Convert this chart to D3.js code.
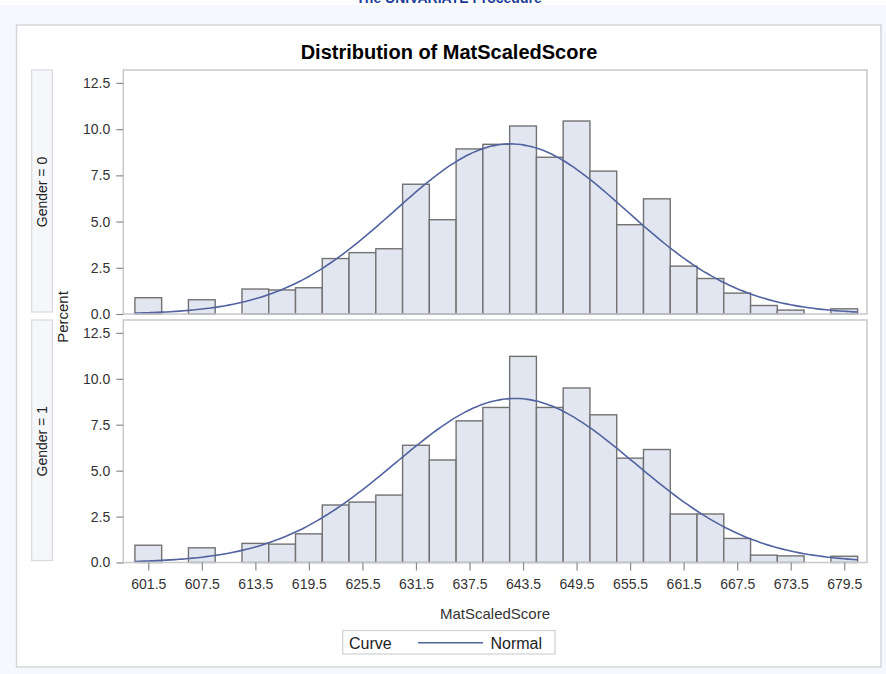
<!DOCTYPE html>
<html>
<head>
<meta charset="utf-8">
<script src="https://cdn.jsdelivr.net/npm/d3@7"></script>
<style>
  html, body { margin: 0; padding: 0; background: #ffffff; }
  svg { display: block; }
  text { font-family: "Liberation Sans", Arial, sans-serif; }
</style>
</head>
<body>
<svg id="chart" width="886" height="674"></svg>
<script>
// Histogram bins of MatScaledScore (bin midpoints, width 3)
const binMids = [601.5, 604.5, 607.5, 610.5, 613.5, 616.5, 619.5, 622.5, 625.5, 628.5,
                 631.5, 634.5, 637.5, 640.5, 643.5, 646.5, 649.5, 652.5, 655.5, 658.5,
                 661.5, 664.5, 667.5, 670.5, 673.5, 676.5, 679.5];
const binWidth = 3;

// Percent of observations in each bin, Gender = 0
const pctGender0 = [0.88, 0, 0.77, 0, 1.35, 1.30, 1.42, 3.00, 3.32, 3.53,
                    7.02, 5.10, 8.93, 9.18, 10.17, 8.48, 10.44, 7.73, 4.83, 6.23,
                    2.59, 1.92, 1.13, 0.46, 0.21, 0, 0.28];
// Percent of observations in each bin, Gender = 1
const pctGender1 = [0.94, 0, 0.80, 0, 1.04, 1.00, 1.56, 3.13, 3.29, 3.67,
                    6.38, 5.58, 7.71, 8.44, 11.22, 8.44, 9.50, 8.04, 5.68, 6.15,
                    2.64, 2.64, 1.31, 0.40, 0.36, 0, 0.34];

// Fitted normal parameters per panel
const panelLabels = ["Gender = 0", "Gender = 1"];
const normalMu = [642.1, 642.6];
const normalSigma = [13.0, 13.4];

// Axis ticks
const xTicks = [601.5, 607.5, 613.5, 619.5, 625.5, 631.5, 637.5, 643.5, 649.5, 655.5,
                661.5, 667.5, 673.5, 679.5];
const yTicks = [0, 2.5, 5, 7.5, 10, 12.5];

const svg = d3.select("#chart");

// page backdrop and output box
svg.append("rect").attr("x", 0).attr("y", 5).attr("width", 886).attr("height", 669)
  .attr("fill", "#f7f8fd");
svg.append("text").attr("x", 449).attr("y", 3).attr("text-anchor", "middle")
  .attr("font-size", 14).attr("font-weight", "bold").attr("fill", "#1b3d99")
  .text("The UNIVARIATE Procedure");
svg.append("rect").attr("x", 16.5).attr("y", 25).attr("width", 864.5).attr("height", 642)
  .attr("fill", "#ffffff").attr("stroke", "#d4d6da").attr("stroke-width", 1.5);

// title
svg.append("text").attr("x", 449).attr("y", 59).attr("text-anchor", "middle")
  .attr("font-size", 20).attr("font-weight", "bold").attr("fill", "#000")
  .text("Distribution of MatScaledScore");

const plotLeft = 123.3, plotRight = 867;
const x = d3.scaleLinear().domain([598.7, 682.05]).range([plotLeft, plotRight]);

const panels = [
  { top: 70, bottom: 314, pct: pctGender0 },
  { top: 320, bottom: 562.5, pct: pctGender1 }
];

const line = d3.line().curve(d3.curveBasis);

panels.forEach((p, i) => {
  const y = d3.scaleLinear().domain([0, 13.2]).range([p.bottom, p.top]);
  const g = svg.append("g");

  // strip with the panel's class value
  g.append("rect").attr("x", 31.7).attr("y", p.top).attr("width", 20.6)
    .attr("height", p.bottom - p.top - 2)
    .attr("fill", "#f5f7fb").attr("stroke", "#d6d9de").attr("stroke-width", 1.2);
  g.append("text")
    .attr("transform", `translate(46.8,${(p.top + p.bottom) / 2}) rotate(-90)`)
    .attr("text-anchor", "middle").attr("font-size", 14).attr("fill", "#222")
    .text(panelLabels[i]);

  // bars
  const bins = binMids.map((m, k) => ({ mid: m, v: p.pct[k] })).filter(d => d.v > 0);
  g.selectAll("rect.bar").data(bins).join("rect").attr("class", "bar")
    .attr("x", d => x(d.mid - binWidth / 2))
    .attr("width", d => x(d.mid + binWidth / 2) - x(d.mid - binWidth / 2))
    .attr("y", d => y(d.v))
    .attr("height", d => y(0) - y(d.v))
    .attr("fill", "#e1e6f0").attr("stroke", "#727272").attr("stroke-width", 1.4);

  // normal density scaled to percent per bin
  const mu = normalMu[i], sd = normalSigma[i];
  const lo = binMids[0] - binWidth / 2, hi = binMids[binMids.length - 1] + binWidth / 2;
  const pts = d3.range(lo, hi + 0.001, 0.5).map(v => {
    const z = (v - mu) / sd;
    const pct = 100 * binWidth * Math.exp(-0.5 * z * z) / (sd * Math.sqrt(2 * Math.PI));
    return [x(v), y(pct)];
  });
  g.append("path").attr("d", line(pts)).attr("fill", "none")
    .attr("stroke", "#5263a0").attr("stroke-width", 1.6);

  // frame
  g.append("rect").attr("x", plotLeft).attr("y", p.top)
    .attr("width", plotRight - plotLeft).attr("height", p.bottom - p.top)
    .attr("fill", "none").attr("stroke", "#c6c8cc").attr("stroke-width", 1.5);

  // y axis
  const ya = g.append("g").attr("transform", `translate(${plotLeft},0)`)
    .call(d3.axisLeft(y).tickValues(yTicks).tickFormat(d3.format(".1f"))
      .tickSize(7).tickPadding(6));
  ya.select(".domain").remove();
  ya.selectAll(".tick line").attr("stroke", "#8a8a8a").attr("stroke-width", 1.2);
  ya.selectAll(".tick text").attr("font-size", 14).attr("fill", "#333")
    .attr("font-family", "Liberation Sans, Arial, sans-serif");

  if (i === 1) {
    const xa = g.append("g").attr("transform", `translate(0,${p.bottom})`)
      .call(d3.axisBottom(x).tickValues(xTicks).tickFormat(d3.format(".1f"))
        .tickSize(8).tickPadding(9));
    xa.select(".domain").remove();
    xa.selectAll(".tick line").attr("stroke", "#8a8a8a").attr("stroke-width", 1.2);
    xa.selectAll(".tick text").attr("font-size", 14).attr("fill", "#333")
      .attr("font-family", "Liberation Sans, Arial, sans-serif");
  }
});

// y axis title shared by both panels
svg.append("text")
  .attr("transform", "translate(68,317) rotate(-90)")
  .attr("text-anchor", "middle").attr("font-size", 15).attr("fill", "#222")
  .text("Percent");

// x axis title
svg.append("text").attr("x", 495).attr("y", 619).attr("text-anchor", "middle")
  .attr("font-size", 15).attr("fill", "#333").text("MatScaledScore");

// legend
const lg = svg.append("g");
lg.append("rect").attr("x", 342.7).attr("y", 630.5).attr("width", 212.3).attr("height", 23.5)
  .attr("fill", "#fff").attr("stroke", "#cfd1d5").attr("stroke-width", 1.2);
lg.append("text").attr("x", 349).attr("y", 648.5).attr("font-size", 16).attr("fill", "#222")
  .text("Curve");
lg.append("line").attr("x1", 418).attr("x2", 483).attr("y1", 642.7).attr("y2", 642.7)
  .attr("stroke", "#5263a0").attr("stroke-width", 1.6);
lg.append("text").attr("x", 490.5).attr("y", 648.5).attr("font-size", 16).attr("fill", "#222")
  .text("Normal");
</script>
</body>
</html>
